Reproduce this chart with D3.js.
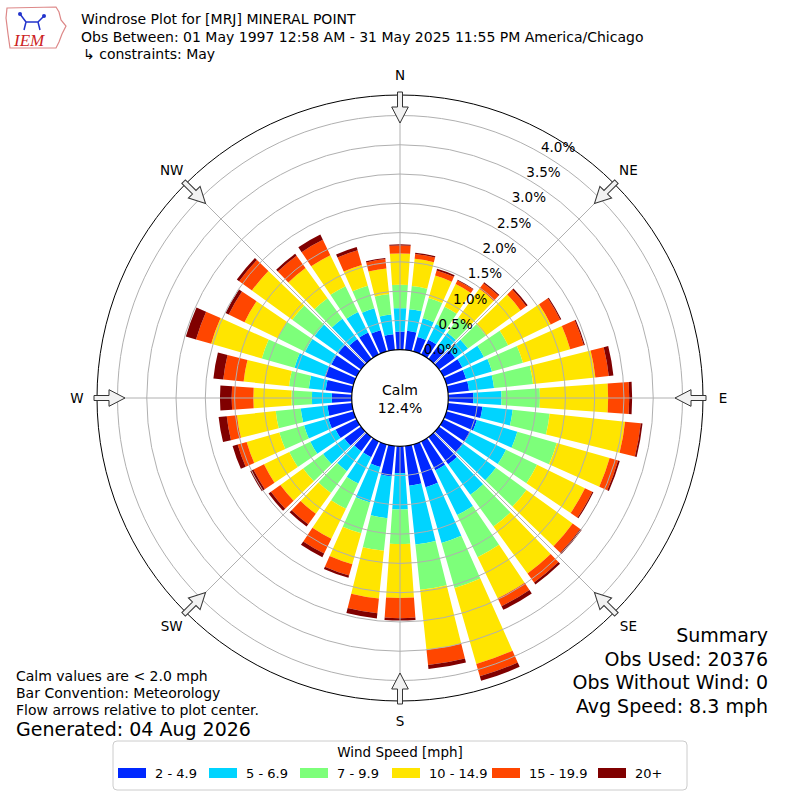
<!DOCTYPE html>
<html><head><meta charset="utf-8">
<script src="https://cdn.jsdelivr.net/npm/d3@7/dist/d3.min.js"></script>
<style>body{margin:0;background:#fff}svg{font-family:"DejaVu Sans",sans-serif}</style>
</head><body>
<svg id="c" width="800" height="800"></svg>
<script>
// ---- data ----
const directions = [0,10,20,30,40,50,60,70,80,90,100,110,120,130,140,150,160,170,180,190,200,210,220,230,240,250,260,270,280,290,300,310,320,330,340,350];
const speedBins = ["2 - 4.9","5 - 6.9","7 - 9.9","10 - 14.9","15 - 19.9","20+"];
const binColors = ["#0028ff","#00d4ff","#7dff7a","#ffe500","#ff4600","#800000"];
// percent frequency per direction for each speed bin
const s2to5   = [0.31,0.33,0.26,0.28,0.27,0.34,0.36,0.35,0.36,0.43,0.59,0.54,0.51,0.51,0.575,0.55,0.76,0.68,0.46,0.52,0.40,0.30,0.30,0.35,0.40,0.45,0.42,0.34,0.45,0.51,0.48,0.48,0.42,0.42,0.38,0.27];
const s5to7   = [0.40,0.37,0.33,0.30,0.28,0.27,0.41,0.46,0.43,0.48,0.52,0.72,0.68,0.69,0.645,0.85,0.99,1.01,0.62,0.72,0.63,0.50,0.42,0.45,0.48,0.43,0.46,0.34,0.29,0.54,0.50,0.50,0.43,0.39,0.39,0.34];
const s7to10  = [0.40,0.40,0.36,0.33,0.33,0.38,0.46,0.55,0.67,0.655,0.635,0.70,0.59,0.645,0.67,0.80,0.80,0.78,0.59,0.56,0.55,0.48,0.46,0.42,0.40,0.44,0.43,0.35,0.34,0.58,0.52,0.47,0.43,0.49,0.40,0.35];
const s10to15 = [0.535,0.465,0.40,0.43,0.60,0.73,0.81,0.84,1.07,1.165,1.295,0.94,0.91,0.975,0.99,0.78,1.35,1.03,0.92,0.82,0.55,0.57,0.44,0.48,0.48,0.58,0.665,0.65,0.78,0.90,0.63,0.85,0.64,0.59,0.37,0.44];
const s15to20 = [0.135,0.085,0.09,0.07,0.12,0.12,0.18,0.24,0.23,0.36,0.27,0.15,0.14,0.16,0.19,0.15,0.22,0.26,0.345,0.25,0.20,0.28,0.22,0.20,0.20,0.16,0.175,0.37,0.35,0.27,0.30,0.27,0.26,0.29,0.26,0.16];
const s20plus = [0.02,0.02,0.03,0.01,0.02,0.03,0.02,0.02,0.08,0.05,0.03,0.03,0.02,0.03,0.04,0.07,0.08,0.07,0.04,0.09,0.04,0.07,0.05,0.05,0.06,0.09,0.14,0.20,0.17,0.18,0.06,0.05,0.04,0.10,0.06,0.02];
const rTicks = [0,0.5,1.0,1.5,2.0,2.5,3.0,3.5,4.0];
const compass = [["N",0],["NE",45],["E",90],["SE",135],["S",180],["SW",225],["W",270],["NW",315]];
const calmPct = "12.4%";
const titleLines = ["Windrose Plot for [MRJ] MINERAL POINT","Obs Between: 01 May 1997 12:58 AM - 31 May 2025 11:55 PM America/Chicago","\u21b3 constraints: May"];
const noteLines = ["Calm values are < 2.0 mph","Bar Convention: Meteorology","Flow arrows relative to plot center."];
const generated = "Generated: 04 Aug 2026";
const summaryLines = ["Summary","Obs Used: 20376","Obs Without Wind: 0","Avg Speed: 8.3 mph"];

// ---- build ----
const series = [s2to5,s5to7,s7to10,s10to15,s15to20,s20plus];
const keys = speedBins;
const rows = directions.map((d,i)=>{const o={dir:d}; keys.forEach((k,j)=>o[k]=series[j][i]); return o;});
const stacked = d3.stack().keys(keys)(rows);

const svg = d3.select("#c");
const cx = 400, cy = 398;
const R0 = 48.3, Rmax = 303;
const r = d3.scaleLinear().domain([0,4.35]).range([R0,Rmax]);
const ang = d3.scaleLinear().domain([0,360]).range([0,2*Math.PI]);
const half = ang(4);
const g = svg.append("g").attr("transform",`translate(${cx},${cy})`);

const arc = d3.arc();
stacked.forEach((layer,li)=>{
  g.append("g").selectAll("path").data(layer).join("path")
    .attr("d",d=>arc({innerRadius:r(d[0]),outerRadius:r(d[1]),startAngle:ang(d.data.dir)-half,endAngle:ang(d.data.dir)+half}))
    .attr("fill",binColors[li]);
});

// grid rings
g.append("g").selectAll("circle").data(rTicks.slice(1)).join("circle")
  .attr("r",d=>r(d)).attr("fill","none").attr("stroke","#b0b0b0").attr("stroke-width",1);
// radial lines
g.append("g").selectAll("line").data(compass).join("line")
  .attr("x1",d=>R0*Math.sin(ang(d[1]))).attr("y1",d=>-R0*Math.cos(ang(d[1])))
  .attr("x2",d=>Rmax*Math.sin(ang(d[1]))).attr("y2",d=>-Rmax*Math.cos(ang(d[1])))
  .attr("stroke","#b0b0b0").attr("stroke-width",1);
// outer circle
g.append("circle").attr("r",Rmax).attr("fill","none").attr("stroke","#000").attr("stroke-width",1);
// calm circle
g.append("circle").attr("r",R0).attr("fill","#fff").attr("stroke","#000").attr("stroke-width",1.2);
g.append("text").attr("x",0).attr("y",-3).attr("text-anchor","middle").attr("font-size",14).text("Calm");
g.append("text").attr("x",0).attr("y",15).attr("text-anchor","middle").attr("font-size",14).text(calmPct);

// radial tick labels
const la = ang(30);
g.append("g").selectAll("text").data(rTicks).join("text")
  .attr("x",d=>(r(d)+14.2)*Math.sin(la)+9.75)
  .attr("y",d=>-(r(d)+14.2)*Math.cos(la)+5.6)
  .attr("text-anchor","middle").attr("dominant-baseline","central").attr("font-size",13.5)
  .text(d=>d.toFixed(1)+"%");

// flow arrows
const arrowPts = [[-2.5,-306],[2.5,-306],[2.5,-291],[8.3,-291],[0,-275],[-8.3,-291],[-2.5,-291]];
g.append("g").selectAll("polygon").data(compass).join("polygon")
  .attr("points",arrowPts.map(p=>p.join(",")).join(" "))
  .attr("transform",d=>`rotate(${d[1]})`)
  .attr("fill","#f2f2f2").attr("stroke","#333").attr("stroke-width",1);
// compass labels
g.append("g").selectAll("text").data(compass).join("text")
  .attr("x",d=>323*Math.sin(ang(d[1]))).attr("y",d=>-323*Math.cos(ang(d[1])))
  .attr("text-anchor","middle").attr("dominant-baseline","central").attr("font-size",13.5)
  .text(d=>d[0]);

// titles
svg.append("g").selectAll("text").data(titleLines).join("text")
  .attr("x",(d,i)=>i===2?83:81).attr("y",(d,i)=>24+i*17.5).attr("font-size",14).text(d=>d);

// logo
const logo = svg.append("g").attr("transform","translate(4,4)");
logo.append("path").attr("d","M3,4 L52,3 L55,8 L57,16 L62,22 L58,30 L55,38 L52,44 L6,44 L4,30 L2,14 Z")
  .attr("fill","none").attr("stroke","#d88").attr("stroke-width",1.2);
logo.append("path").attr("d","M16,10 L22,18 M22,18 L34,18 M34,18 L40,12 M22,18 L20,26 M34,18 L36,26")
  .attr("stroke","#2233cc").attr("stroke-width",1.5).attr("fill","none");
logo.append("circle").attr("cx",16).attr("cy",10).attr("r",2).attr("fill","#2233cc");
logo.append("circle").attr("cx",40).attr("cy",12).attr("r",2).attr("fill","#2233cc");
logo.append("text").attr("x",10).attr("y",42).attr("font-size",17).attr("font-style","italic")
  .attr("font-family","Liberation Serif, serif").attr("fill","#cc2222").text("IEM");

// notes
svg.append("g").selectAll("text").data(noteLines).join("text")
  .attr("x",16).attr("y",(d,i)=>681+i*17).attr("font-size",14).text(d=>d);
svg.append("text").attr("x",16).attr("y",736).attr("font-size",19).text(generated);

// summary
svg.append("g").selectAll("text").data(summaryLines).join("text")
  .attr("x",768).attr("y",(d,i)=>642+i*23.5).attr("text-anchor","end").attr("font-size",19).text(d=>d);

// legend
const lg = svg.append("g");
lg.append("rect").attr("x",113).attr("y",741).attr("width",574).attr("height",49).attr("rx",4)
  .attr("fill","#fff").attr("stroke","#ccc");
lg.append("text").attr("x",400).attr("y",757).attr("text-anchor","middle").attr("font-size",13.5).text("Wind Speed [mph]");
const item = lg.selectAll("g.it").data(speedBins).join("g").attr("class","it")
  .attr("transform",(d,i)=>`translate(${[118,209,300,392,492,598][i]},768)`);
item.append("rect").attr("width",28).attr("height",10).attr("fill",(d,i)=>binColors[i]);
item.append("text").attr("x",37).attr("y",10).attr("font-size",13).text(d=>d);
</script>
</body></html>
